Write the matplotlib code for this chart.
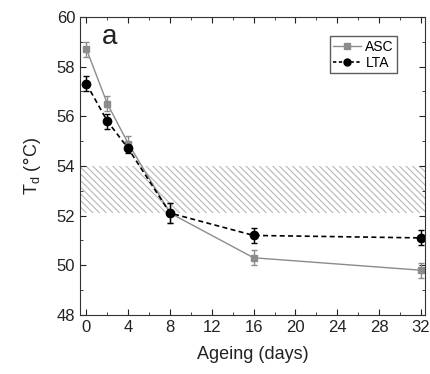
import numpy as np
import matplotlib.pyplot as plt
from matplotlib.ticker import MultipleLocator
from matplotlib.lines import Line2D

plt.rcParams['font.family'] = ['Liberation Sans', 'DejaVu Sans']
plt.rcParams['hatch.color'] = '#b8b8b8'
plt.rcParams['hatch.linewidth'] = 0.8

# 数据
days = [0, 2, 4, 8, 16, 32]
asc = [58.7, 56.5, 54.9, 52.1, 50.3, 49.8]
asc_err = [0.3, 0.3, 0.3, 0.4, 0.3, 0.3]
lta = [57.3, 55.8, 54.7, 52.1, 51.2, 51.1]
lta_err = [0.3, 0.3, 0.2, 0.4, 0.3, 0.3]
band = (52.1, 54.0)

fig = plt.figure(figsize=(4.31, 3.74), dpi=100)
ax = fig.add_axes([0.186, 0.158, 0.800, 0.797])

# 阴影区域
ax.fill_between([-1, 34], band[0], band[1], facecolor='none',
                hatch='\\\\\\\\\\', edgecolor='#b8b8b8', linewidth=0)

ax.errorbar(days, asc, yerr=asc_err, color='#8c8c8c', marker='s',
            markersize=5, lw=1.0, capsize=2.5, elinewidth=1.0)
ax.errorbar(days, lta, yerr=lta_err, color='black', marker='o',
            markersize=6, lw=1.2, ls=(0, (3, 2)), capsize=2.5,
            elinewidth=1.0)

ax.set_xlim(-0.6, 32.4)
ax.set_ylim(48, 60)
ax.xaxis.set_major_locator(MultipleLocator(4))
ax.xaxis.set_minor_locator(MultipleLocator(2))
ax.yaxis.set_major_locator(MultipleLocator(2))
ax.yaxis.set_minor_locator(MultipleLocator(1))
ax.tick_params(which='both', direction='in', top=True, right=True,
               labeltop=False, labelright=False, labelsize=12, colors='#222222')
ax.tick_params(which='major', length=4)
ax.tick_params(which='minor', length=2)
for s in ax.spines.values():
    s.set_color('#333333')

ax.set_xlabel('Ageing (days)', fontsize=13, color='#222222', labelpad=8)
ax.set_ylabel(r'T$_\mathregular{d}$ ($\degree$C)', fontsize=13, color='#222222', labelpad=10)
ax.text(2.2, 59.2, 'a', fontsize=20, ha='center', va='center', color='#222222')

handles = [Line2D([], [], color='#8c8c8c', marker='s', markersize=4, lw=1.0),
           Line2D([], [], color='black', marker='o', markersize=5, lw=1.2, ls=(0, (2, 1.5)))]
leg = ax.legend(handles, ['ASC', 'LTA'], loc='upper right',
                bbox_to_anchor=(0.92, 0.935), fontsize=10,
                frameon=True, fancybox=False, edgecolor='#333333',
                handlelength=2.0, handletextpad=0.3, borderpad=0.25,
                labelspacing=0.15, borderaxespad=0)
leg.get_frame().set_linewidth(1.0)

fig.savefig('out.png', dpi=100)
